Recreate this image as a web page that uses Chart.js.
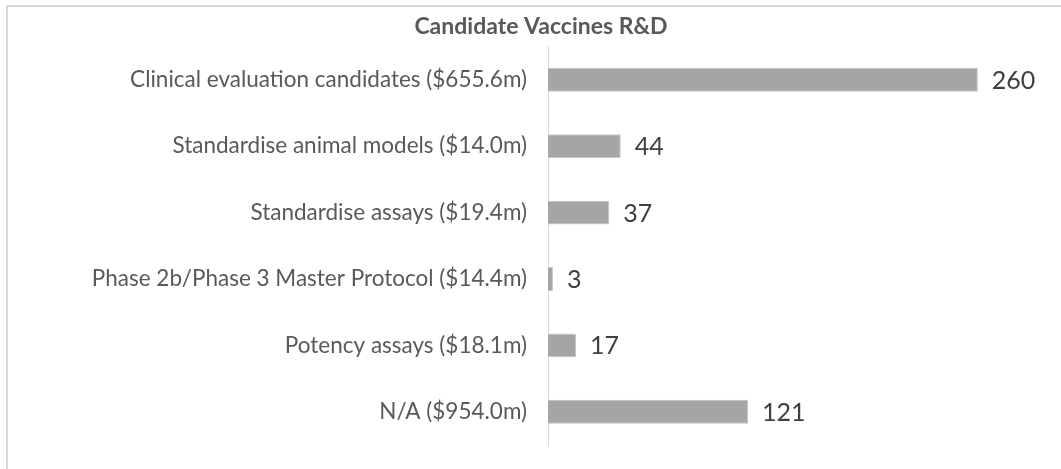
<!DOCTYPE html>
<html>
<head>
<meta charset="utf-8">
<script src="https://cdn.jsdelivr.net/npm/chart.js@4"></script>
<style>
  html, body { margin: 0; padding: 0; background: #fff; }
  #wrap { position: relative; width: 1061px; height: 469px; overflow: hidden; }
  #frame { position: absolute; left: 6px; top: 5px; width: 1100px; height: 500px;
           border-top: 2px solid #d9d9d9; border-left: 2px solid #d9d9d9; }
  #chart { position: absolute; left: 0; top: 0; }
</style>
</head>
<body>
<div id="wrap">
  <div id="frame"></div>
  <canvas id="chart" width="1061" height="469"></canvas>
</div>
<script>
// --- data ---
const categories = [
    "Clinical evaluation candidates ($655.6m)",
    "Standardise animal models ($14.0m)",
    "Standardise assays ($19.4m)",
    "Phase 2b/Phase 3 Master Protocol ($14.4m)",
    "Potency assays ($18.1m)",
    "N/A ($954.0m)"
];
const counts = [260, 44, 37, 3, 17, 121];

const FONT = "Lato, 'Open Sans', sans-serif";

// value labels to the right of each bar
const valueLabels = {
    id: 'valueLabels',
    afterDatasetsDraw(chart) {
        const ctx = chart.ctx;
        const meta = chart.getDatasetMeta(0);
        ctx.save();
        ctx.font = "25px " + FONT;
        ctx.fillStyle = '#404040';
        ctx.textAlign = 'left';
        ctx.textBaseline = 'middle';
        meta.data.forEach((bar, i) => {
            ctx.fillText(String(counts[i]), bar.x + 14, bar.y + 1);
        });
        ctx.restore();
    }
};

new Chart(document.getElementById('chart'), {
    type: 'bar',
    data: {
        labels: categories,
        datasets: [{
            data: counts,
            backgroundColor: '#a5a5a5',
            borderColor: '#c4c4c4',
            borderWidth: 1,
            categoryPercentage: 1,
            barPercentage: 0.36
        }]
    },
    options: {
        indexAxis: 'y',
        responsive: false,
        animation: false,
        layout: { padding: { left: 38, right: 17, top: 0, bottom: 24 } },
        scales: {
            x: { display: false, min: 0, max: 300 },
            y: {
                afterFit(scale) {
                    // fixed axis width, no extra label overhang padding
                    scale.width = 510;
                    scale.paddingTop = 0;
                    scale.paddingBottom = 0;
                },
                grid: { drawOnChartArea: false, drawTicks: false },
                border: { display: true, color: '#d9d9d9', width: 1 },
                ticks: { color: '#595959', font: { family: FONT, size: 22.5 }, padding: 21 }
            }
        },
        plugins: {
            legend: { display: false },
            tooltip: { enabled: false },
            title: {
                display: true,
                text: 'Candidate Vaccines R&D',
                color: '#595959',
                font: { family: FONT, size: 23, weight: 'bold' },
                padding: { top: 13, bottom: 6 }
            }
        }
    },
    plugins: [valueLabels]
});
</script>
</body>
</html>
